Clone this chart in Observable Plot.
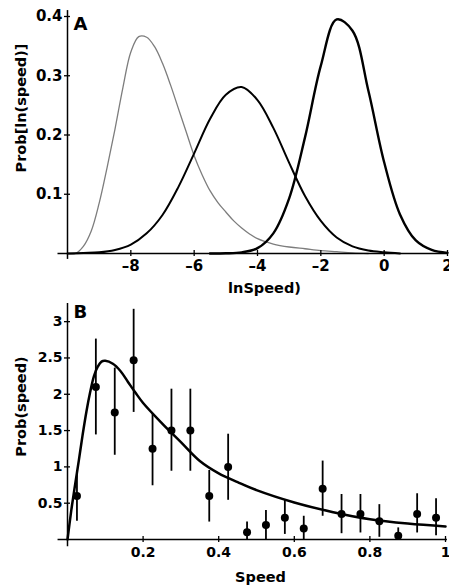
<!DOCTYPE html>
<html><head><meta charset="utf-8">
<script src="https://cdn.jsdelivr.net/npm/d3@7"></script>
<script src="https://cdn.jsdelivr.net/npm/@observablehq/plot@0.6"></script>
<style>body{margin:0;background:#fff} svg{display:block}</style>
</head><body><div id="chart"></div><script>
// Panel A: distributions of ln(speed)
const lnSpeedGray = [-10,-9.75,-9.5,-9.25,-9,-8.75,-8.5,-8.25,-8,-7.75,-7.5,-7.25,-7,-6.75,-6.5,-6.25,-6,-5.75,-5.5,-5.25,-5,-4.75,-4.5,-4.25,-4,-3.5,-3,-2.5,-2,-1.5,-1,-0.5];
const probGray = [0,0,0.012,0.038,0.085,0.145,0.21,0.28,0.34,0.366,0.365,0.349,0.321,0.285,0.245,0.205,0.165,0.133,0.106,0.086,0.07,0.055,0.043,0.033,0.025,0.016,0.011,0.008,0.005,0.003,0.001,0];
const lnSpeedMid = [-10,-9.5,-9,-8.5,-8,-7.5,-7,-6.5,-6,-5.5,-5,-4.5,-4,-3.5,-3,-2.5,-2,-1.5,-1,-0.5,0,0.5];
const probMid = [0,0.001,0.002,0.006,0.015,0.034,0.065,0.112,0.169,0.227,0.268,0.281,0.259,0.212,0.153,0.097,0.055,0.027,0.012,0.005,0.002,0];
const lnSpeedRight = [-5.5,-5,-4.5,-4,-3.5,-3,-2.5,-2,-1.5,-1,-0.5,0,0.5,1,1.5,2];
const probRight = [0,0.0003,0.002,0.009,0.034,0.093,0.196,0.317,0.395,0.376,0.275,0.154,0.066,0.022,0.006,0.001];
const xTicksA = [-8,-6,-4,-2,0,2];
const yTicksA = [0.1,0.2,0.3,0.4];
const xLabelA = "lnSpeed)";
const yLabelA = "Prob[ln(speed)]";

// Panel B: distribution of speed
const speedFit = [0,0.01,0.02,0.03,0.04,0.05,0.06,0.07,0.08,0.09,0.10,0.12,0.14,0.16,0.18,0.20,0.25,0.30,0.35,0.40,0.45,0.50,0.60,0.70,0.80,0.90,1.00];
const probFit = [0,0.40,0.75,1.09,1.44,1.76,2.03,2.25,2.38,2.45,2.46,2.42,2.32,2.17,2.02,1.88,1.60,1.34,1.08,0.91,0.79,0.68,0.51,0.38,0.28,0.22,0.18];
const speedBins = [0.025,0.075,0.125,0.175,0.225,0.275,0.325,0.375,0.425,0.475,0.525,0.575,0.625,0.675,0.725,0.775,0.825,0.875,0.925,0.975];
const probObs = [0.6,2.1,1.75,2.47,1.25,1.5,1.5,0.6,1.0,0.1,0.2,0.3,0.15,0.7,0.35,0.35,0.25,0.05,0.35,0.3];
const errLo = [0.25,1.44,1.16,1.75,0.74,0.94,0.94,0.24,0.54,0,0,0.07,0,0.32,0.08,0.09,0.03,0,0.09,0.05];
const errHi = [0.95,2.76,2.36,3.17,1.73,2.07,2.07,0.95,1.45,0.24,0.4,0.54,0.32,1.08,0.62,0.62,0.48,0.16,0.63,0.56];
const xTicksB = [0.2,0.4,0.6,0.8,1];
const yTicksB = [0.5,1,1.5,2,2.5,3];
const xLabelB = "Speed";
const yLabelB = "Prob(speed)";

const zip = (xs, ys) => xs.map((x, i) => ({x, y: ys[i]}));
const grayData = zip(lnSpeedGray, probGray);
const midData = zip(lnSpeedMid, probMid);
const rightData = zip(lnSpeedRight, probRight);
const fitData = zip(speedFit, probFit);
const obs = speedBins.map((s, i) => ({speed: s, prob: probObs[i], lo: errLo[i], hi: errHi[i]}));
const fmt = d => d < 0 ? "\u2013" + Math.abs(d) : String(d);
const blank = () => "";
const font = "DejaVu Sans";

const chartA = Plot.plot({
  width: 449, height: 295,
  marginLeft: 67, marginRight: 2, marginTop: 16, marginBottom: 42,
  x: {domain: [-10, 2]},
  y: {domain: [0, 0.4]},
  style: {fontFamily: font, fontWeight: "bold", fontSize: "15px", color: "#000", background: "#fff", overflow: "visible"},
  marks: [
    Plot.line(grayData, {x: "x", y: "y", stroke: "#7d7d7d", strokeWidth: 1.3, curve: "catmull-rom"}),
    Plot.line(midData, {x: "x", y: "y", stroke: "#000", strokeWidth: 2, curve: "catmull-rom"}),
    Plot.line(rightData, {x: "x", y: "y", stroke: "#000", strokeWidth: 2.4, curve: "catmull-rom"}),
    Plot.ruleY([0], {x1: -10.3, x2: 2, stroke: "#000", strokeWidth: 1.5}),
    Plot.ruleX([-10], {y1: -0.01, y2: 0.41, stroke: "#000", strokeWidth: 1.5}),
    Plot.axisX(xTicksA, {tickSize: 6, dy: -3, tickFormat: blank, label: null, strokeWidth: 1.3}),
    Plot.axisX(xTicksA, {tickSize: 0, tickPadding: 7, tickFormat: fmt, label: null}),
    Plot.axisY(yTicksA, {tickSize: 6, dx: 3, tickFormat: blank, label: null, strokeWidth: 1.3}),
    Plot.axisY(yTicksA, {tickSize: 0, tickPadding: 5, tickFormat: fmt, label: null}),
    Plot.text(["A"], {text: d => d, frameAnchor: "top-left", textAnchor: "start", lineAnchor: "top", dx: 6, dy: 1, fontSize: 18}),
    Plot.text([yLabelA], {text: d => d, frameAnchor: "left", textAnchor: "middle", lineAnchor: "middle", rotate: -90, dx: -46, dy: -27, fontSize: 14.5}),
    Plot.text([xLabelA], {text: d => d, frameAnchor: "bottom", textAnchor: "middle", lineAnchor: "middle", dx: 7, dy: 35, fontSize: 14.5})
  ]
});

const chartB = Plot.plot({
  width: 449, height: 290,
  marginLeft: 67, marginRight: 4, marginTop: 8, marginBottom: 46,
  x: {domain: [0, 1]},
  y: {domain: [0, 3.25]},
  style: {fontFamily: font, fontWeight: "bold", fontSize: "14px", color: "#000", background: "#fff", overflow: "visible"},
  marks: [
    Plot.ruleX(obs, {x: "speed", y1: "lo", y2: "hi", stroke: "#000", strokeWidth: 1.8}),
    Plot.dot(obs, {x: "speed", y: "prob", r: 4, fill: "#000"}),
    Plot.line(fitData, {x: "x", y: "y", stroke: "#000", strokeWidth: 2.5, curve: "catmull-rom"}),
    Plot.ruleY([0], {x1: -0.025, x2: 1.005, stroke: "#000", strokeWidth: 1.5}),
    Plot.ruleX([0], {y1: -0.1, y2: 3.25, stroke: "#000", strokeWidth: 1.5}),
    Plot.axisX(xTicksB, {tickSize: 6, dy: -3, tickFormat: blank, label: null, strokeWidth: 1.3}),
    Plot.axisX(xTicksB, {tickSize: 0, tickPadding: 8, tickFormat: fmt, label: null}),
    Plot.axisY(yTicksB, {tickSize: 6, dx: 3, tickFormat: blank, label: null, strokeWidth: 1.3}),
    Plot.axisY(yTicksB, {tickSize: 0, tickPadding: 5, tickFormat: fmt, label: null}),
    Plot.text(["B"], {text: d => d, frameAnchor: "top-left", textAnchor: "start", lineAnchor: "top", dx: 6, dy: 2, fontSize: 18}),
    Plot.text([yLabelB], {text: d => d, frameAnchor: "left", textAnchor: "middle", lineAnchor: "middle", rotate: -90, dx: -46, dy: -15, fontSize: 14.5}),
    Plot.text([xLabelB], {text: d => d, frameAnchor: "bottom", textAnchor: "middle", lineAnchor: "middle", dx: 4, dy: 38, fontSize: 14.5})
  ]
});

const root = document.getElementById("chart");
root.append(chartA, chartB);
</script></body></html>
